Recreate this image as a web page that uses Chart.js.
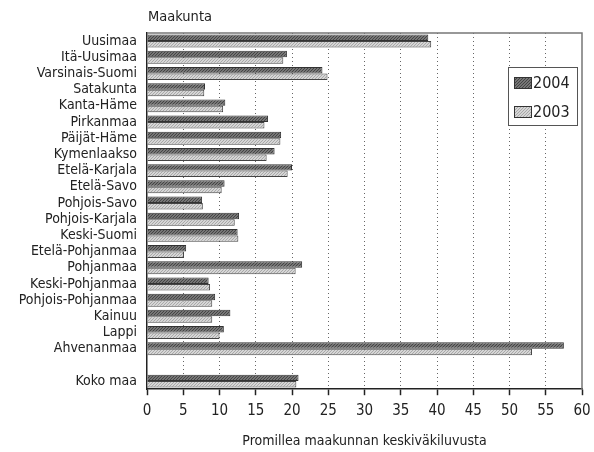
<!DOCTYPE html>
<html>
<head>
<meta charset="utf-8">
<script src="https://cdn.jsdelivr.net/npm/chart.js@4/dist/chart.umd.min.js"></script>
<style>
	html, body { margin: 0; padding: 0; background: #fff; }
	#wrap { width: 594px; height: 452px; }
</style>
</head>
<body>
<div id="wrap"><canvas id="chart" width="594" height="452"></canvas></div>
<script>
const regions = [
	'Uusimaa', 'Itä-Uusimaa', 'Varsinais-Suomi', 'Satakunta', 'Kanta-Häme',
	'Pirkanmaa', 'Päijät-Häme', 'Kymenlaakso', 'Etelä-Karjala', 'Etelä-Savo',
	'Pohjois-Savo', 'Pohjois-Karjala', 'Keski-Suomi', 'Etelä-Pohjanmaa', 'Pohjanmaa',
	'Keski-Pohjanmaa', 'Pohjois-Pohjanmaa', 'Kainuu', 'Lappi', 'Ahvenanmaa',
	'', 'Koko maa',
];
const values2004 = [
	38.8, 19.3, 24.2, 8.0, 10.8,
	16.7, 18.5, 17.6, 20.0, 10.7,
	7.6, 12.7, 12.5, 5.4, 21.4,
	8.5, 9.4, 11.5, 10.6, 57.5,
	null, 20.9,
];
const values2003 = [
	39.2, 18.8, 24.9, 7.9, 10.5,
	16.2, 18.4, 16.5, 19.4, 10.3,
	7.7, 12.1, 12.6, 5.1, 20.5,
	8.7, 9.0, 9.0, 10.0, 53.1,
	null, 20.6,
];
const seriesLabels = ['2004', '2003'];
const xTicks = [0, 5, 10, 15, 20, 25, 30, 35, 40, 45, 50, 55, 60];

const FONT = '"Liberation Sans Narrow", "DejaVu Sans Condensed", "Open Sans", sans-serif';

function dotPattern(base, dot) {
	const c = document.createElement('canvas');
	c.width = 3;
	c.height = 3;
	const g = c.getContext('2d');
	g.fillStyle = base;
	g.fillRect(0, 0, 3, 3);
	g.fillStyle = dot;
	g.fillRect(0, 0, 1, 1);
	g.fillRect(2, 1, 1, 1);
	g.fillRect(1, 2, 1, 1);
	return g.createPattern(c, 'repeat');
}

const fill2004 = dotPattern('#767676', '#444');
const fill2003 = dotPattern('#d6d6d6', '#a8a8a8');

const framePlugin = {
	id: 'frame',
	beforeDatasetsDraw(chart) {
		const { ctx, chartArea: a } = chart;
		ctx.save();
		ctx.strokeStyle = '#777';
		ctx.lineWidth = 1.5;
		ctx.beginPath();
		ctx.moveTo(a.left, a.top);
		ctx.lineTo(a.right, a.top);
		ctx.lineTo(a.right, a.bottom);
		ctx.stroke();
		ctx.restore();
	},
	afterDraw(chart) {
		const { ctx, chartArea: a } = chart;
		ctx.save();
		// axis heading
		ctx.fillStyle = '#222';
		ctx.font = '14.5px ' + FONT;
		ctx.textBaseline = 'alphabetic';
		ctx.textAlign = 'left';
		ctx.fillText('Maakunta', a.left + 1, a.top - 12);

		// legend box
		const lx = 508, ly = 67, lw = 69, lh = 58;
		ctx.fillStyle = '#fff';
		ctx.fillRect(lx, ly, lw, lh);
		ctx.strokeStyle = '#555';
		ctx.lineWidth = 1;
		ctx.strokeRect(lx + 0.5, ly + 0.5, lw, lh);
		const fills = [fill2004, fill2003];
		seriesLabels.forEach((label, i) => {
			const y = ly + 10 + i * 29;
			ctx.fillStyle = fills[i];
			ctx.fillRect(lx + 6, y, 17, 11);
			ctx.strokeStyle = '#333';
			ctx.strokeRect(lx + 6.5, y + 0.5, 17, 11);
			ctx.fillStyle = '#222';
			ctx.font = '16px ' + FONT;
			ctx.textBaseline = 'middle';
			ctx.fillText(label, lx + 25, y + 7);
		});
		ctx.restore();
	},
};

function createChart() {
	const ctx = document.getElementById('chart').getContext('2d');
	new Chart(ctx, {
		type: 'bar',
		data: {
			labels: regions,
			datasets: [
				{
					label: seriesLabels[0],
					data: values2004,
					backgroundColor: fill2004,
					borderColor: '#333',
					borderWidth: 1,
					categoryPercentage: 0.8,
					barPercentage: 1.0,
				},
				{
					label: seriesLabels[1],
					data: values2003,
					backgroundColor: fill2003,
					borderColor: '#444',
					borderWidth: 1,
					categoryPercentage: 0.8,
					barPercentage: 1.0,
				},
			],
		},
		options: {
			indexAxis: 'y',
			responsive: false,
			animation: false,
			layout: {
				padding: { top: 33, right: 0, bottom: 2, left: 0 },
			},
			plugins: {
				legend: { display: false },
				tooltip: { enabled: false },
			},
			scales: {
				x: {
					min: 0,
					max: 60,
					afterBuildTicks(axis) {
						axis.ticks = xTicks.map((v) => ({ value: v }));
					},
					afterFit(axis) {
						axis.paddingRight = 12;
					},
					grid: {
						color: (c) => (c.tick && c.tick.value > 0 && c.tick.value < 60 ? '#666' : 'rgba(0,0,0,0)'),
						lineWidth: 1,
						drawTicks: true,
						tickLength: 6,
						tickColor: '#222',
						tickWidth: 1.5,
						tickBorderDash: [],
					},
					border: { display: true, color: '#222', width: 1.5, dash: [1, 3] },
					ticks: {
						color: '#222',
						padding: 7,
						font: { family: FONT, size: 15 },
					},
					title: {
						display: true,
						text: 'Promillea maakunnan keskiväkiluvusta',
						color: '#222',
						font: { family: FONT, size: 14 },
						padding: { top: 6, bottom: 0 },
					},
				},
				y: {
					afterFit(axis) {
						axis.width = 147;
					},
					grid: { display: false, drawTicks: false },
					border: { display: true, color: '#222', width: 1.5 },
					ticks: {
						color: '#222',
						padding: 10,
						autoSkip: false,
						font: { family: FONT, size: 14 },
					},
				},
			},
		},
		plugins: [framePlugin],
	});
}

document.addEventListener('DOMContentLoaded', createChart);
</script>
</body>
</html>
